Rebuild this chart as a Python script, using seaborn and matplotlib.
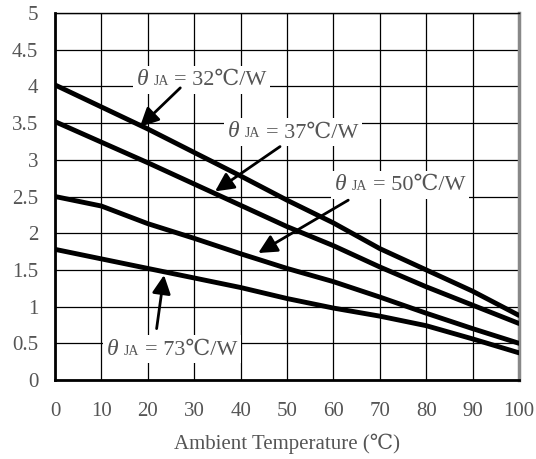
import matplotlib
matplotlib.use("Agg")
import matplotlib.pyplot as plt
import seaborn as sns
import pandas as pd
from matplotlib.offsetbox import TextArea, HPacker, AnnotationBbox

temps = [0, 10, 20, 30, 40, 50, 60, 70, 80, 90, 100]
p32 = [4.02, 3.72, 3.42, 3.10, 2.78, 2.45, 2.14, 1.79, 1.50, 1.21, 0.88]
p37 = [3.52, 3.24, 2.96, 2.67, 2.38, 2.09, 1.83, 1.54, 1.27, 1.02, 0.77]
p50 = [2.50, 2.37, 2.13, 1.93, 1.72, 1.52, 1.34, 1.13, 0.91, 0.70, 0.50]
p73 = [1.78, 1.65, 1.52, 1.39, 1.26, 1.11, 0.98, 0.87, 0.74, 0.56, 0.37]
series_names = ["32", "37", "50", "73"]
series_vals = [p32, p37, p50, p73]
x_ticks = [0, 10, 20, 30, 40, 50, 60, 70, 80, 90, 100]
y_ticks = [0, 0.5, 1, 1.5, 2, 2.5, 3, 3.5, 4, 4.5, 5]
y_tick_labels = ["0", "0.5", "1", "1.5", "2", "2.5", "3", "3.5", "4", "4.5", "5"]
x_label = "Ambient Temperature (\u2103)"

rows = []
for name, vals in zip(series_names, series_vals):
    for t, v in zip(temps, vals):
        rows.append({"temp": t, "power": v, "theta": name})
df = pd.DataFrame(rows)

sns.set_style("white")
plt.rcParams["font.family"] = ["Liberation Serif", "DejaVu Serif"]

TXT = "#555555"
fig = plt.figure(figsize=(5.36, 4.59), dpi=100)
ax = fig.add_axes([55 / 536, 79 / 459, 464 / 536, 367 / 459])

sns.lineplot(data=df, x="temp", y="power", hue="theta",
             palette=["black"] * 4, linewidth=3.5, legend=False, ax=ax, zorder=5)

ax.set_xlim(0, 100)
ax.set_ylim(0, 5)
ax.set_xticks(x_ticks)
ax.set_yticks(y_ticks)
ax.set_yticklabels(y_tick_labels)
ax.grid(True, color="black", linewidth=0.9)
ax.set_axisbelow(True)
ax.tick_params(axis="both", length=0, labelsize=15, colors=TXT)
ax.tick_params(axis="x", pad=16)
ax.tick_params(axis="y", pad=12)
ax.set_xlabel(x_label, fontsize=15, color=TXT, labelpad=9)
ax.set_ylabel("")

for side in ["left", "bottom"]:
    ax.spines[side].set_color("black")
    ax.spines[side].set_linewidth(2)
ax.spines["top"].set_color("black")
ax.spines["top"].set_linewidth(1)
ax.spines["right"].set_color("#888888")
ax.spines["right"].set_linewidth(2.5)

# annotations: (label text pos), (arrow tail), (arrow tip)
annots = [
    ("32", (31.6, 4.09), (27.0, 3.98), (18.3, 3.45)),
    ("37", (51.3, 3.38), (48.5, 3.18), (34.5, 2.57)),
    ("50", (74.3, 2.66), (63.2, 2.45), (43.8, 1.73)),
    ("73", (25.2, 0.42), (21.9, 0.70), (23.5, 1.43)),
]
for name, tpos, tail, tip in annots:
    ax.annotate("", xy=tip, xytext=tail,
                arrowprops=dict(arrowstyle="-|>", color="black", lw=2,
                                mutation_scale=28, shrinkA=0, shrinkB=0),
                zorder=7)
    t1 = TextArea("\u03b8", textprops=dict(fontsize=17, style="italic", color=TXT))
    t2 = TextArea("JA", textprops=dict(fontsize=10, color=TXT))
    t3 = TextArea("= " + name + "\u2103/W", textprops=dict(fontsize=16, color=TXT))
    box = HPacker(children=[t1, t2, t3], align="baseline", pad=0, sep=4)
    ab = AnnotationBbox(box, tpos, xycoords="data", frameon=True,
                        box_alignment=(0.5, 0.5), pad=0.25,
                        bboxprops=dict(facecolor="white", edgecolor="none"),
                        zorder=6)
    ax.add_artist(ab)

fig.savefig("out.png", dpi=100)
